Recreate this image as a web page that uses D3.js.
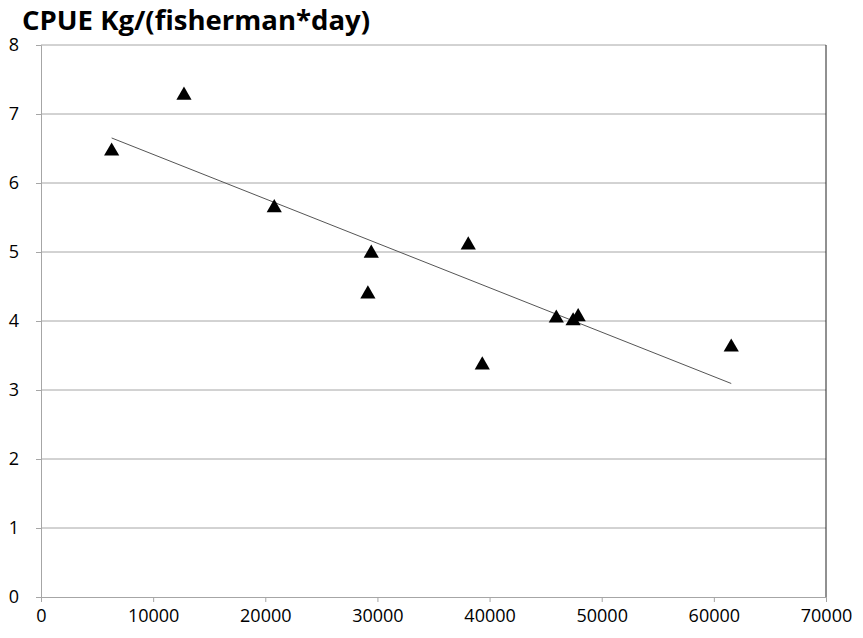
<!DOCTYPE html>
<html>
<head>
<meta charset="utf-8">
<script src="https://cdn.jsdelivr.net/npm/d3@7"></script>
<style>
body { margin: 0; background: #fff; }
text { font-family: "Open Sans", "Noto Sans", sans-serif; }
</style>
</head>
<body>
<svg id="chart" width="863" height="638"></svg>
<script>
// effort (fisherman*days) vs CPUE
var effort = [6300, 12750, 20800, 29450, 29150, 38100, 39350, 45950, 47450, 47900, 61550];
var cpue = [6.49, 7.30, 5.67, 5.01, 4.42, 5.13, 3.39, 4.07, 4.03, 4.09, 3.65];
var xTicks = [0, 10000, 20000, 30000, 40000, 50000, 60000, 70000];
var yTicks = [0, 1, 2, 3, 4, 5, 6, 7, 8];
var title = "CPUE Kg/(fisherman*day)";

var svg = d3.select("#chart");
var pLeft = 41, pRight = 826, pTop = 45, pBottom = 597;

var x = d3.scaleLinear().domain([0, 70000]).range([pLeft, pRight]);
var y = d3.scaleLinear().domain([0, 8]).range([pBottom, pTop]);

var gBody = svg.append("g");

// grid lines
gBody.selectAll(".grid")
	.data(yTicks.slice(1))
	.enter().append("line")
		.attr("class", "grid")
		.attr("x1", pLeft)
		.attr("x2", pRight)
		.attr("y1", function(d){ return y(d); })
		.attr("y2", function(d){ return y(d); })
		.attr("stroke", "#a6a6a6")
		.attr("stroke-width", 1);

// right border
gBody.append("line")
	.attr("x1", pRight).attr("x2", pRight)
	.attr("y1", pTop).attr("y2", pBottom)
	.attr("stroke", "#222")
	.attr("stroke-width", 1);

// axes
var xAxis = d3.axisBottom(x).tickValues(xTicks).tickSize(5).tickPadding(7).tickFormat(d3.format("d"));
var yAxis = d3.axisLeft(y).tickValues(yTicks).tickSize(5).tickPadding(14).tickFormat(d3.format("d"));

var gx = svg.append("g").attr("transform", "translate(0," + pBottom + ")").call(xAxis);
var gy = svg.append("g").attr("transform", "translate(" + pLeft + ",0)").call(yAxis);

[gx, gy].forEach(function(g){
	g.select(".domain").attr("stroke", "#a6a6a6");
	g.selectAll(".tick line").attr("stroke", "#a6a6a6");
	g.selectAll(".tick text")
		.attr("fill", "#000")
		.style("font-size", "18px")
		.style("font-family", "'Open Sans', sans-serif");
});
gy.selectAll(".tick text").attr("text-anchor", "middle").attr("x", -27);

// trend line (least squares)
var mx = d3.mean(effort), my = d3.mean(cpue);
var sxy = d3.sum(effort, function(d, i){ return (d - mx) * (cpue[i] - my); });
var sxx = d3.sum(effort, function(d){ return (d - mx) * (d - mx); });
var slope = sxy / sxx, icpt = my - slope * mx;
var ext = d3.extent(effort);

gBody.append("line")
	.attr("x1", x(ext[0])).attr("y1", y(icpt + slope * ext[0]))
	.attr("x2", x(ext[1])).attr("y2", y(icpt + slope * ext[1]))
	.attr("stroke", "#555")
	.attr("stroke-width", 1);

// markers (bbox centred on the value, like the spreadsheet marker)
var tri = d3.symbol().type(d3.symbolTriangle).size(100);
gBody.selectAll(".pt")
	.data(effort)
	.enter().append("path")
		.attr("class", "pt")
		.attr("d", tri)
		.attr("fill", "#000")
		.attr("transform", function(d, i){ return "translate(" + x(d) + "," + (y(cpue[i]) + 2) + ")"; });

// title
svg.append("text")
	.attr("x", 22)
	.attr("y", 30)
	.attr("font-weight", "bold")
	.style("font-size", "26px")
	.attr("textLength", 348)
	.attr("lengthAdjust", "spacingAndGlyphs")
	.text(title);
</script>
</body>
</html>
